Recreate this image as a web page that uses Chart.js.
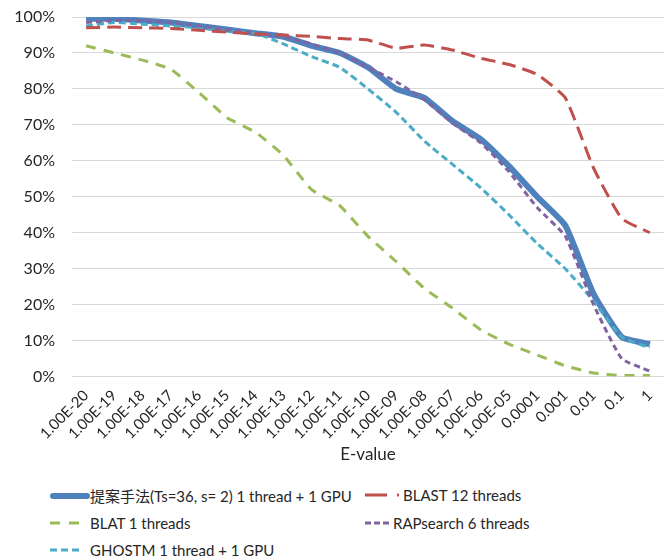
<!DOCTYPE html>
<html>
<head>
<meta charset="utf-8">
<script src="https://cdn.jsdelivr.net/npm/chart.js@4/dist/chart.umd.min.js"></script>
<style>
  html, body { margin: 0; padding: 0; background: #fff; }
  #wrap { position: relative; width: 668px; height: 556px; }
  #box { position: absolute; left: 0; top: 0; width: 668px; height: 475px; }
  #legend { position: absolute; left: 0; top: 480px; width: 668px; height: 76px;
    font-family: 'Lato', 'Noto Sans CJK JP', sans-serif; font-size: 15px; color: #262626; }
  .item { position: absolute; display: flex; align-items: center; white-space: nowrap; }
</style>
</head>
<body>
<div id="wrap">
  <div id="box"><canvas id="myChart"></canvas></div>
  <div id="legend"></div>
</div>
<script>
const evalues = ['1.00E-20', '1.00E-19', '1.00E-18', '1.00E-17', '1.00E-16', '1.00E-15', '1.00E-14',
  '1.00E-13', '1.00E-12', '1.00E-11', '1.00E-10', '1.00E-09', '1.00E-08', '1.00E-07', '1.00E-06',
  '1.00E-05', '0.0001', '0.001', '0.01', '0.1', '1']

// sensitivity (%) per E-value threshold
const proposed = [99.5, 99.5, 99, 98.5, 97.5, 96.5, 95.5, 94.5, 92, 90, 86, 80, 77.5, 71, 66, 58.5, 50, 42, 23, 11, 9]
const blast = [97, 97.2, 97, 96.8, 96.3, 95.8, 95.3, 95, 94.6, 94, 93.6, 91.3, 92.2, 90.8, 88.5, 86.8, 84, 77.5, 58, 44, 40]
const blat = [92, 90, 88, 85.5, 79, 72, 68, 61.5, 52, 47.5, 39, 32, 24.5, 19, 13, 9, 6, 3, 1, 0.3, 0.3]
const rapsearch = [98.5, 99, 99, 98.5, 97.5, 96.5, 95.5, 94.5, 92.5, 90, 86, 82, 77, 70.5, 65, 57, 47, 39, 20, 5, 1.5]
const ghostm = [97.5, 98.5, 98, 97.5, 97, 96, 95.5, 92.5, 89, 86, 80, 73.5, 65.5, 59, 52.5, 45, 37, 30, 21, 11, 8]

const yTicks = [0, 10, 20, 30, 40, 50, 60, 70, 80, 90, 100]

const font = "'Lato', 'Noto Sans CJK JP', sans-serif"

const ctx = document.getElementById('myChart')
const myChart = new Chart(ctx, {
  type: 'line',
  data: {
    labels: evalues,
    datasets: [{
      label: '提案手法(Ts=36, s= 2) 1 thread + 1 GPU',
      data: proposed,
      borderColor: '#4f81bd',
      borderWidth: 6,
      borderDash: [],
      order: 10,
      tension: 0.15
    }, {
      label: 'BLAST 12 threads',
      data: blast,
      borderColor: '#c0504d',
      borderWidth: 3,
      borderDash: [14, 7],
      order: 1,
      tension: 0.15
    }, {
      label: 'BLAT 1 threads',
      data: blat,
      borderColor: '#9bbb59',
      borderWidth: 3,
      borderDash: [10, 8],
      order: 1,
      tension: 0.15
    }, {
      label: 'RAPsearch 6 threads',
      data: rapsearch,
      borderColor: '#8064a2',
      borderWidth: 3,
      borderDash: [6, 4],
      order: 1,
      tension: 0.15
    }, {
      label: 'GHOSTM 1 thread + 1 GPU',
      data: ghostm,
      borderColor: '#4bacc6',
      borderWidth: 3,
      borderDash: [7, 4],
      order: 1,
      tension: 0.15
    }]
  },
  options: {
    responsive: true,
    maintainAspectRatio: false,
    animation: false,
    layout: { padding: { left: 0, right: 4, top: 0, bottom: 6 } },
    elements: { point: { radius: 0 }, line: { fill: false, borderCapStyle: 'butt' } },
    plugins: {
      legend: { display: false },
      tooltip: { enabled: false }
    },
    scales: {
      x: {
        offset: true,
        grid: { display: false },
        border: { display: false },
        ticks: {
          minRotation: 45, maxRotation: 45, autoSkip: false, padding: 2,
          color: '#262626', font: { family: font, size: 15 }
        },
        title: {
          display: true, text: 'E-value', color: '#262626',
          font: { family: font, size: 17 }, padding: { top: 0, bottom: 4 }
        }
      },
      y: {
        min: 0, max: 100,
        afterBuildTicks: axis => { axis.ticks = yTicks.map(v => ({ value: v })) },
        afterFit: axis => {
          axis.width = 72
          axis.paddingTop = 17
          axis.paddingBottom = 0
        },
        grid: { color: '#d9d9d9', lineWidth: 1, drawTicks: false },
        border: { display: false },
        ticks: {
          padding: 17, color: '#262626', font: { family: font, size: 16 },
          callback: v => v + '%'
        }
      }
    }
  }
})

// legend laid out in two columns like the original
const legendPos = [[50, 15], [365, 15], [50, 43], [365, 43], [50, 70]]
const legendDash = [null, '22 10 2 10', '10 9', '6 3', '7 4']
const legendEl = document.getElementById('legend')
myChart.data.datasets.forEach((ds, i) => {
  const div = document.createElement('div')
  div.className = 'item'
  div.style.left = legendPos[i][0] + 'px'
  div.style.top = (legendPos[i][1] - 10) + 'px'
  const w = i === 1 ? 38 : (i === 3 ? 28 : 40)
  const dash = legendDash[i] ? `stroke-dasharray="${legendDash[i]}"` : ''
  const cap = i === 0 ? 'round' : 'butt'
  const x1 = i === 0 ? 3 : 0
  const x2 = i === 0 ? 37 : (i === 1 ? 36 : (i === 3 ? 25 : 33))
  div.innerHTML = `<svg width="${w}" height="20"><line x1="${x1}" y1="10" x2="${x2}" y2="10" stroke="${ds.borderColor}" stroke-width="${ds.borderWidth}" stroke-linecap="${cap}" ${dash}/></svg><span>${ds.label}</span>`
  legendEl.appendChild(div)
})
</script>
</body>
</html>
